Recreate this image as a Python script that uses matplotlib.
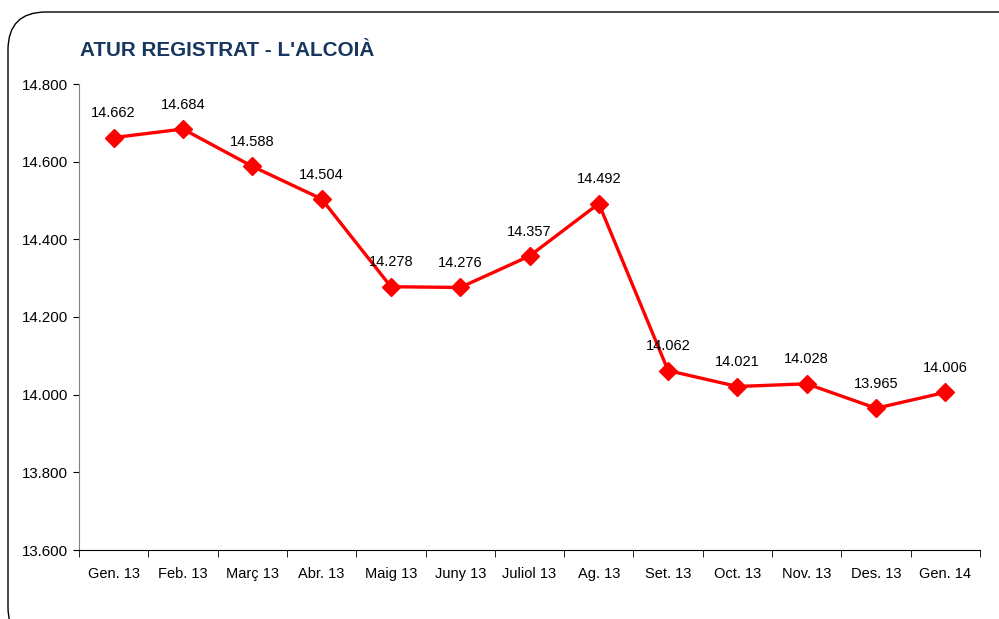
import matplotlib
matplotlib.use("Agg")
import matplotlib.pyplot as plt
from matplotlib.patches import FancyBboxPatch
from matplotlib.ticker import FuncFormatter, MultipleLocator

categories = ["Gen. 13", "Feb. 13", "Març 13", "Abr. 13", "Maig 13", "Juny 13", "Juliol 13",
              "Ag. 13", "Set. 13", "Oct. 13", "Nov. 13", "Des. 13", "Gen. 14"]
values = [14662, 14684, 14588, 14504, 14278, 14276, 14357, 14492, 14062, 14021, 14028, 13965, 14006]
title = "ATUR REGISTRAT - L'ALCOIÀ"

plt.rcParams['font.family'] = ['Liberation Sans', 'DejaVu Sans']

W, H = 999, 619
fig = plt.figure(figsize=(W / 100, H / 100), dpi=100)

# rounded frame
frame = FancyBboxPatch((8 / W, -26 / H), 1100 / W, (H - 12 + 26) / H,
                       boxstyle="round,pad=0,rounding_size=0.038",
                       transform=fig.transFigure, facecolor="none",
                       edgecolor="black", linewidth=1.0, mutation_aspect=W / H,
                       zorder=-1)
fig.patches.append(frame)

ax = fig.add_axes([79 / W, (H - 550) / H, (980 - 79) / W, (550 - 84) / H])
ax.patch.set_alpha(0)
x = list(range(len(categories)))
ax.plot(x, values, color="#ff0000", linewidth=2.4, marker="D", markersize=9.5,
        markeredgecolor="#ff0000", zorder=3, clip_on=False)
for xi, v in zip(x, values):
    ax.annotate(f"{v/1000:.3f}", (xi, v), xytext=(0, 17.5), textcoords="offset points",
                ha="center", va="center", fontsize=10.5, color="black")

ax.set_xlim(-0.5, len(categories) - 0.5)
ax.set_ylim(13600, 14800)
ax.yaxis.set_major_locator(MultipleLocator(200))
ax.yaxis.set_major_formatter(FuncFormatter(lambda v, p: f"{v/1000:.3f}"))
ax.set_xticks(x)
ax.set_xticklabels(categories)
ax.set_xticks([i - 0.5 for i in range(len(categories) + 1)], minor=True)
ax.tick_params(axis="x", which="major", length=0, pad=12.5, labelsize=10.5)
ax.tick_params(axis="x", which="minor", length=5, color="black", direction="out")
ax.tick_params(axis="y", length=4, color="black", labelsize=10.8, pad=4)
for s in ["top", "right"]:
    ax.spines[s].set_visible(False)
ax.spines["left"].set_color("#808080")
ax.spines["bottom"].set_color("black")

fig.text(80 / W, 1 - 50.5 / H, title, fontsize=14.9, fontweight="bold", color="#17375E",
         ha="left", va="center")

fig.savefig("out.png", dpi=100)
